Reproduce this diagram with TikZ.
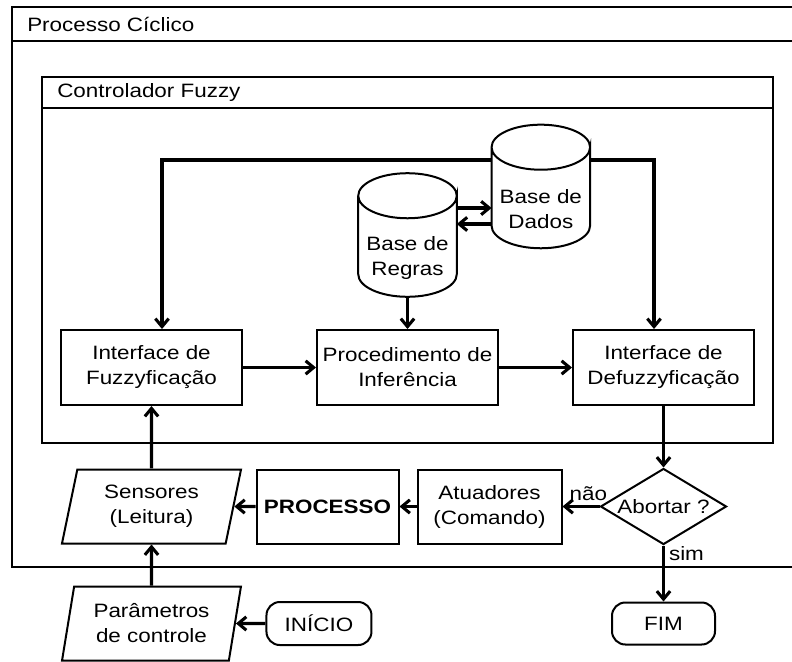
\documentclass[tikz,border=0pt]{standalone}
\usepackage{fontspec}
\setmainfont{Liberation Sans}[FakeStretch=1.16]
\usepackage{tikz}
\usetikzlibrary{positioning,shapes.geometric,arrows.meta,calc}

\begin{document}
\begin{tikzpicture}[x=0.75pt,y=-0.75pt,on grid,>={Straight Barb[length=6pt,width=10pt]},
        font=\fontsize{14.5}{18.75}\selectfont]
        \tikzstyle{every node}=[align=center,inner sep=0pt]
        \tikzstyle{bloco}=[draw,line width=1.5pt,fill=white,minimum width=135.75pt,minimum height=56.25pt]
        \tikzstyle{entrada}=[trapezium,trapezium left angle=77,trapezium right angle=103,trapezium stretches=true,draw,line width=1.5pt,fill=white,minimum width=135pt,minimum height=55.5pt]
        \tikzstyle{banco}=[rectangle,outer sep=0pt,minimum width=73.9pt,minimum height=58.9pt]
        \tikzstyle{cilindro}=[line width=1.5pt]
        \tikzstyle{terminal}=[draw,line width=1.5pt,fill=white,rounded corners=10pt,minimum width=77.25pt,minimum height=31.5pt]
        \tikzstyle{decisao}=[diamond,aspect=1.66,draw,line width=1.5pt,fill=white,minimum width=94.5pt,minimum height=57pt]
        \tikzstyle{fluxo}=[->,line width=2.3pt]
        \tikzstyle{moldura}=[line width=1.5pt]
        \useasboundingbox (0,0) rectangle (792,661);
        \clip (0,0) rectangle (792,661);
        % molduras
        \draw[moldura] (12,7) rectangle (800,567);
        \draw[moldura] (12,41) -- (800,41);
        \node[anchor=west] (tciclo) at (27,24) {Processo Cíclico};
        \draw[moldura] (42,77) rectangle (773,443);
        \draw[moldura] (42,108) -- (773,108);
        \node[anchor=west] (tfuzzy) at (57,92.5) {Controlador Fuzzy};
        % controlador
        \node[bloco] (fuzz) at (151.5,367.5) {Interface de\\Fuzzyficação};
        \node[bloco] (infer) [right=192pt of fuzz] {Procedimento de\\Inferência};
        \node[bloco] (defuzz) [right=192pt of infer] {Interface de\\Defuzzyficação};
        \node[banco] (regras) [above=82.5pt of infer] {Base de\\Regras};
        \node[banco] (dados) [above right=36.4pt and 100pt of regras] {Base de\\Dados};
        \foreach \c in {regras,dados}
            \draw[cilindro] ($(\c.north east)+(0,-22.5)$) arc[start angle=0,end angle=360,x radius=36.95pt,y radius=16.9pt]
                -- ($(\c.south east)+(0,-22.5)$) arc[start angle=0,end angle=-180,x radius=36.95pt,y radius=16.9pt]
                -- ($(\c.north west)+(0,-22.5)$);
        % processo
        \node[entrada] (sensores) [below=104.25pt of fuzz] {Sensores\\(Leitura)};
        \node[bloco,minimum width=106.5pt,minimum height=55.5pt,font=\fontsize{14.5}{18.75}\selectfont\bfseries] (processo) [right=132pt of sensores] {PROCESSO};
        \node[bloco,minimum width=108pt,minimum height=55.5pt] (atuad) [right=121.5pt of processo] {Atuadores\\(Comando)};
        \node[decisao] (aborta) [below=104.25pt of defuzz] {Abortar ?};
        \node[terminal] (fim) [below=87.75pt of aborta] {FIM};
        \node[entrada] (param) [below=87.75pt of sensores] {Parâmetros\\de controle};
        \node[terminal,minimum width=78.75pt,minimum height=32.25pt] (inicio) [right=125.6pt of param] {INÍCIO};
        % conexoes
        \coordinate (ida) at ($(regras.east)+(0,-49.5)$);
        \coordinate (volta) at ($(regras.east)+(0,-33.5)$);
        \draw[fluxo] ($(dados.west)+(0,-49)$) -| ($(fuzz.north)+(10.5,0)$);
        \draw[fluxo] ($(dados.east)+(0,-49)$) -| ($(defuzz.north)+(-9.5,0)$);
        \draw[fluxo] (ida) -- (ida -| dados.west);
        \draw[fluxo] (volta -| dados.west) -- (volta);
        \draw[fluxo] (regras) -- (infer);
        \draw[fluxo] (fuzz) -- (infer);
        \draw[fluxo] (infer) -- (defuzz);
        \draw[fluxo] (defuzz.south) -- (aborta.north);
        \draw[fluxo] (aborta) -- node[pos=0.3,above=3pt] {não} (atuad);
        \draw[fluxo] (atuad) -- (processo);
        \draw[fluxo] (processo) -- (sensores);
        \draw[fluxo] (aborta.south) -- node[pos=0.15,right=3pt] {sim} (fim.north);
        \draw[fluxo] (sensores.north) -- (fuzz.south);
        \draw[fluxo] (param.north) -- (sensores.south);
        \draw[fluxo] (inicio) -- (param);
\end{tikzpicture}
\end{document}
